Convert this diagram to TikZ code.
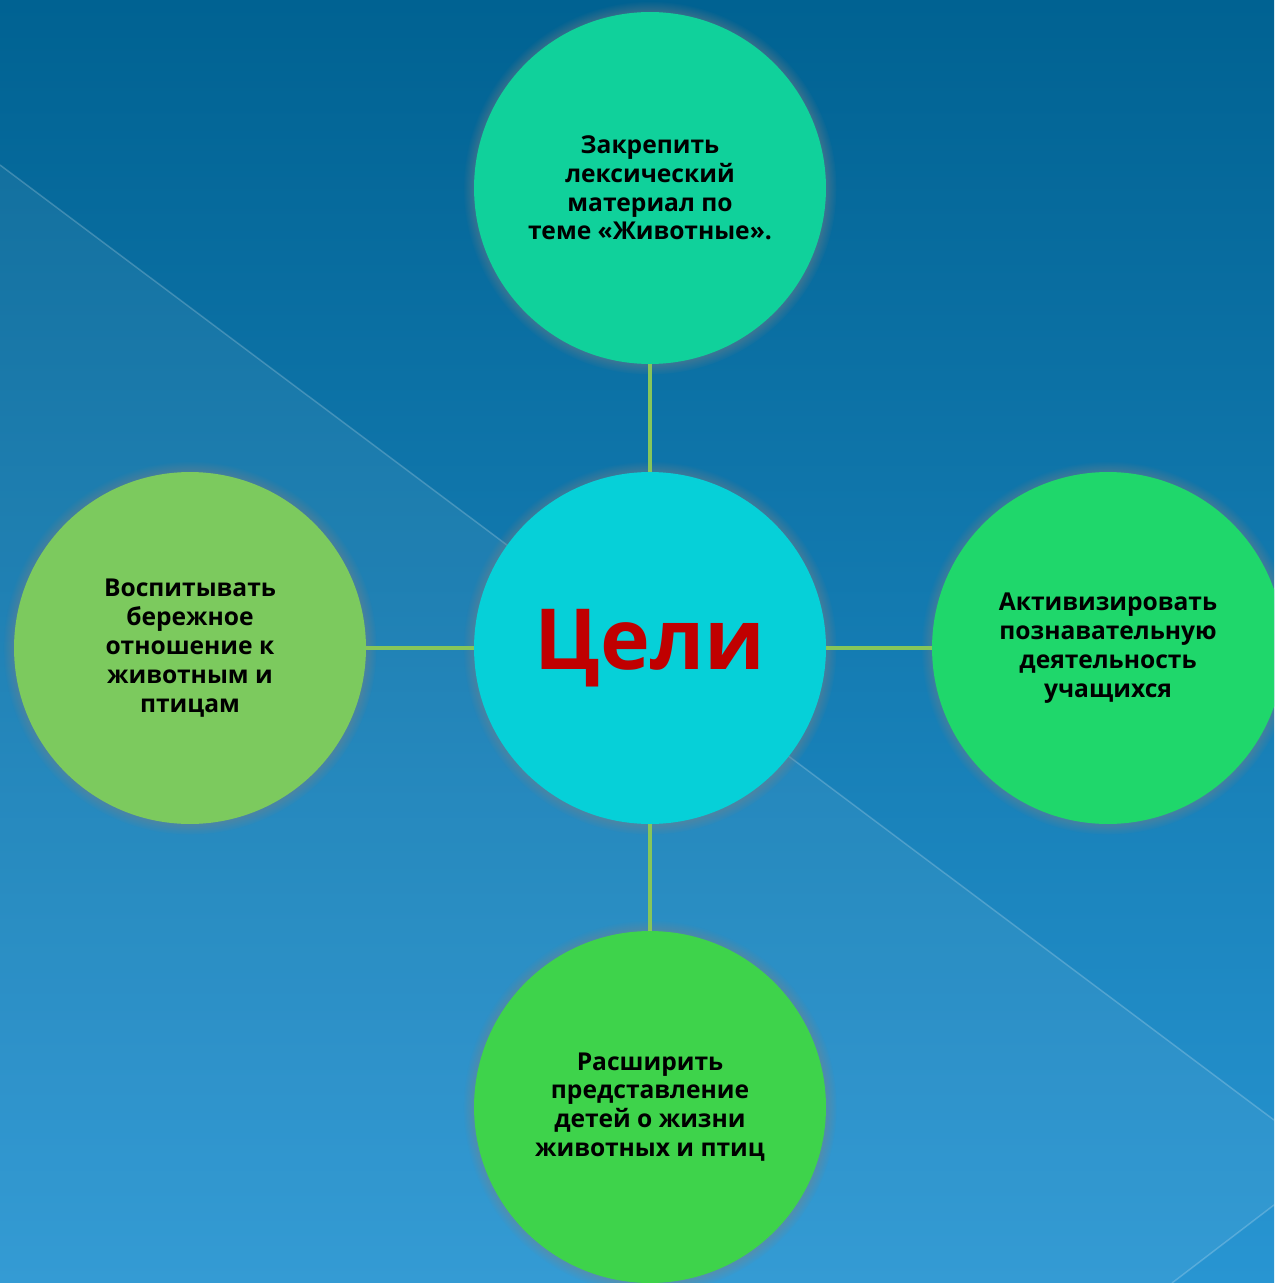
\documentclass[tikz,border=0pt]{standalone}
\usepackage{fontspec}
\setmainfont{Open Sans}
\usetikzlibrary{shadows,fadings}
\definecolor{bgtop}{HTML}{006292}
\definecolor{bgbot}{HTML}{2895D2}
\definecolor{ctop}{HTML}{10D19B}
\definecolor{cgoal}{HTML}{06D0D8}
\definecolor{cleft}{HTML}{7CCA5E}
\definecolor{cright}{HTML}{1FD76B}
\definecolor{cbottom}{HTML}{3ED34B}
\definecolor{linkgreen}{HTML}{86C65A}
\definecolor{goalred}{HTML}{C00000}
\begin{document}
\begin{tikzpicture}[x=0.02cm,y=-0.02cm,
  goal/.style={circle,minimum size=7.04cm,inner sep=0pt,align=center,
    font=\bfseries\fontsize{14}{16.4}\selectfont,
    circular drop shadow={shadow xshift=0pt,shadow yshift=0pt,shadow scale=1.06,opacity=1}},
  link/.style={draw=linkgreen,line width=0.08cm}]
\useasboundingbox (0,0) rectangle (1274,1283);
\clip (0,0) rectangle (1274,1283);
% background:
\shade[top color=bgtop,bottom color=bgbot] (0,0) rectangle (1274,1283);
\fill[white,opacity=0.06] (0,165) -- (1274,1120) -- (1274,1205) -- (1172,1283) -- (0,1283) -- cycle;
\draw[white,opacity=0.2,line width=0.03cm] (0,165) -- (1274,1120) (1172,1283) -- (1274,1205);
% circles:
\node[goal,fill=cgoal,text=goalred,font=\bfseries\fontsize{48}{52}\selectfont] (goal) at (650,648) {Цели};
\node[goal,fill=ctop] (fix) at (650,188) {Закрепить\\лексический\\материал по\\теме «Животные».};
\node[goal,fill=cleft] (care) at (190,648) {Воспитывать\\бережное\\отношение к\\животным и\\птицам};
\node[goal,fill=cright] (act) at (1108,648) {Активизировать\\познавательную\\деятельность\\учащихся};
\node[goal,fill=cbottom] (wide) at (650,1107) {Расширить\\представление\\детей о жизни\\животных и птиц};
% links:
\draw[link] (goal) -- (fix);
\draw[link] (goal) -- (care);
\draw[link] (goal) -- (act);
\draw[link] (goal) -- (wide);
\end{tikzpicture}
\end{document}
